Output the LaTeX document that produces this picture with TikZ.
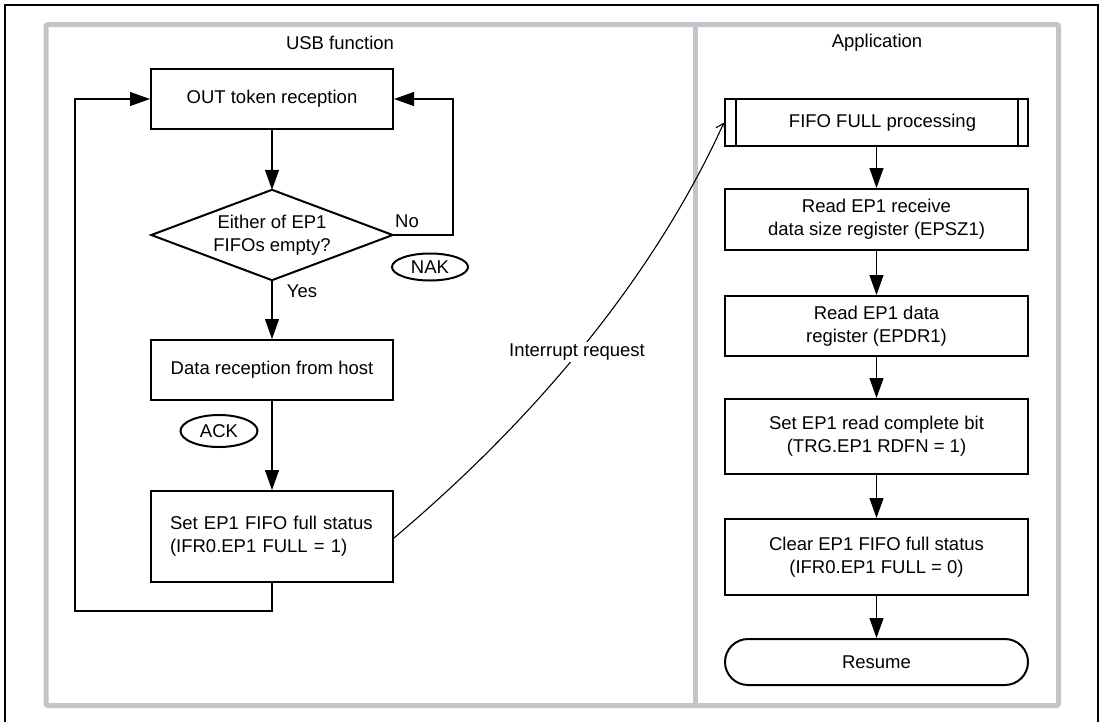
\documentclass[tikz,border=0pt]{standalone}
\usepackage{fontspec}
\setmainfont{Liberation Sans}
\usetikzlibrary{arrows.meta,shapes.geometric,shapes.misc}
\definecolor{framegray}{RGB}{194,198,203}
\begin{document}
\begin{tikzpicture}[x=1pt,y=-1pt,
  font=\fontsize{18.5}{23}\selectfont,
  box/.style={draw, line width=2pt, inner sep=0pt, minimum width=242pt, align=center},
  rbox/.style={draw, line width=2pt, inner sep=0pt, minimum width=303pt, align=center},
  conn/.style={line width=1.1pt},
  arr/.style={conn, -{Triangle[length=20pt,width=14pt]}},
  oval/.style={draw, ellipse, line width=2pt, inner sep=0pt},
  lbl/.style={inner sep=1pt}
]
\useasboundingbox (0,0) rectangle (1103,721);
% outer black frame (bottom outside picture)
\draw[line width=2pt] (5,730) -- (5,5) -- (1098,5) -- (1098,730);
% gray frame
\draw[framegray, line width=5pt, rounded corners=2pt] (46,24.5) rectangle (1058.5,705.5);
\draw[framegray, line width=5pt] (695.5,24.5) -- (695.5,705.5);
\node[lbl] (tusb) at (340,43) {USB function};
\node[lbl] (tapp) at (877,43) {Application};

% left column
\node[box, minimum height=60pt] (out) at (272,99) {OUT token reception};
\node[minimum width=241pt, minimum height=90pt, inner sep=0pt, align=center] (dec) at (272,235) {Either of EP1\\FIFOs empty?};
\draw[line width=2pt, line join=miter] (dec.north) -- (dec.east) -- (dec.south) -- (dec.west) -- cycle;
\node[box, minimum height=60pt] (data) at (272,370) {Data reception from host};
\node[box, minimum height=91pt, text width=204pt, align=left] (setfull) at (272,536.5) {Set EP1 FIFO full status\\(IFR0.EP1 FULL = 1)\\[4pt]};

\node[lbl] (no) at (407,221) {No};
\node[lbl] (yes) at (302,291) {Yes};
\node[oval, minimum width=76pt, minimum height=27pt] (nak) at (430,267) {NAK};
\node[oval, minimum width=77pt, minimum height=32pt] (ack) at (219,431) {ACK};

\coordinate (nr) at (453,235);
\coordinate (lb) at (75,611);
\draw[arr] (out.south) -- (dec.north);
\draw[arr] (dec.south) -- (data.north);
\draw[arr] (data.south) -- (setfull.north);
\draw[arr] (dec.east) -- (nr) |- (out.east);
\draw[arr] (setfull.south) |- (lb) |- (out.west);

% right column
\node[rbox, minimum height=47pt] (fifo) at (876.5,122.5) {\hspace{12pt}FIFO FULL processing};
\draw[line width=2pt] ([xshift=12pt]fifo.north west) -- ([xshift=12pt]fifo.south west);
\draw[line width=2pt] ([xshift=-11pt]fifo.north east) -- ([xshift=-11pt]fifo.south east);
\node[rbox, minimum height=61pt] (rd1) at (876.5,219.5) {Read EP1 receive\\data size register (EPSZ1)};
\node[rbox, minimum height=60pt] (rd2) at (876.5,326) {Read EP1 data\\register (EPDR1)};
\node[rbox, minimum height=75pt] (setrd) at (876.5,436.5) {Set EP1 read complete bit\\(TRG.EP1 RDFN = 1)};
\node[rbox, minimum height=76pt] (clr) at (876.5,557) {Clear EP1 FIFO full status\\(IFR0.EP1 FULL = 0)};
\node[rbox, rounded rectangle, minimum height=46pt] (res) at (876.5,662) {Resume};

\draw[arr] (fifo.south) -- (rd1.north);
\draw[arr] (rd1.south) -- (rd2.north);
\draw[arr] (rd2.south) -- (setrd.north);
\draw[arr] (setrd.south) -- (clr.north);
\draw[arr] (clr.south) -- (res.north);

% interrupt request
\draw[conn, -{Straight Barb[length=7pt,width=10pt]}] ([yshift=-1.5pt]setfull.east) .. controls (450,490) and (625,340) .. (fifo.west);
\node[fill=white, inner sep=2pt] (irq) at (577,352) {Interrupt request};
\end{tikzpicture}
\end{document}
